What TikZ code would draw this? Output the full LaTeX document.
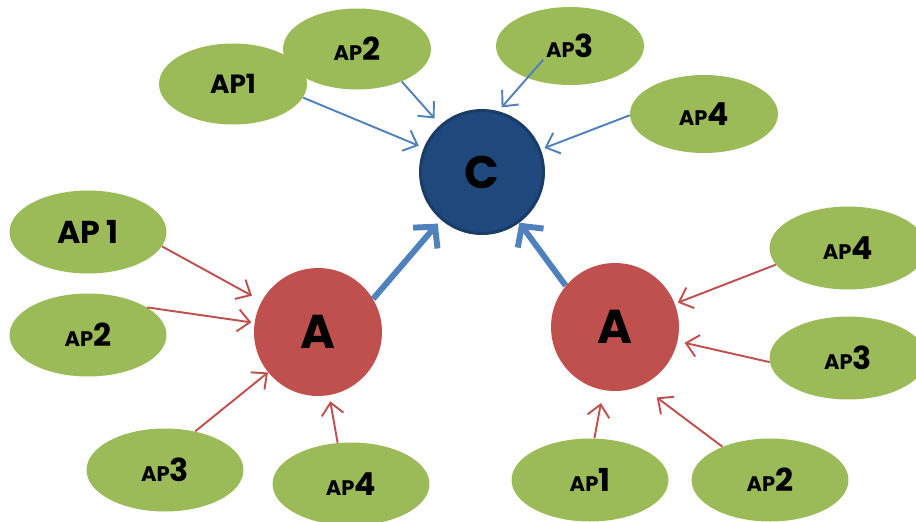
\documentclass[tikz,border=0pt]{standalone}
\usepackage{fontspec}
\setmainfont{Poppins}
\usetikzlibrary{shapes.geometric,arrows.meta,calc}

\definecolor{apgreen}{HTML}{9BBB59}
\definecolor{aggred}{HTML}{C0504D}
\definecolor{coreblue}{HTML}{1F497D}
\definecolor{coreedge}{HTML}{1A3B64}
\definecolor{linkblue}{HTML}{4F81BD}

\newcommand{\aplabel}[1]{{\fontsize{12}{12}\selectfont AP}{\fontsize{18}{18}\selectfont #1}}

\begin{document}
\begin{tikzpicture}[
        x=0.02cm, y=-0.02cm,
        font=\bfseries,
        apnode/.style = {ellipse, fill=apgreen, minimum width=3.14cm, minimum height=1.66cm, inner sep=0pt},
        topap/.style = {apnode, minimum width=2.96cm, minimum height=1.62cm},
        aggnode/.style = {circle, fill=aggred, minimum size=2.56cm, inner sep=0pt, font=\bfseries\fontsize{27}{27}\selectfont},
        corenode/.style = {circle, fill=coreblue, draw=coreedge, line width=1.7pt, minimum size=2.46cm, inner sep=0pt, font=\bfseries\fontsize{26}{26}\selectfont},
        redlink/.style = {draw=aggred, line width=1.1pt, -{Straight Barb[length=2.4mm,width=4.4mm]}, shorten >=#1},
        redlink/.default = 1.2mm,
        bluelink/.style = {draw=linkblue, line width=1.1pt, -{Straight Barb[length=2.4mm,width=4.4mm]}, shorten >=#1},
        bluelink/.default = 1mm,
        uplink/.style = {draw=linkblue, line width=3.4pt, -{Straight Barb[length=3mm,width=6.4mm]}}
    ]

    \useasboundingbox (0,0) rectangle (916,521);

    % top group, feeding the core
    \node[topap] (tap1) at (233,84) {\fontsize{15}{15}\selectfont AP1};
    \node[topap] (tap2) at (357,49) {\aplabel{2}};
    \node[topap, minimum height=1.56cm] (tap3) at (570,46) {\aplabel{3}};
    \node[topap, minimum height=1.56cm] (tap4) at (704,114) {\aplabel{4}};

    \node[corenode] (core) at (482,172) {C};

    % left group
    \node[apnode] (lap1) at (88,232) {\fontsize{18}{18}\selectfont AP 1};
    \node[apnode] (lap2) at (88,335) {\aplabel{2}};
    \node[apnode] (lap3) at (165,470) {\aplabel{3}};
    \node[apnode] (lap4) at (351,484) {\aplabel{4}};

    \node[aggnode] (lagg) at (318,332) {A};

    % right group
    \node[apnode] (rap4) at (848,248) {\aplabel{4}};
    \node[apnode] (rap3) at (848,358) {\aplabel{3}};
    \node[apnode] (rap1) at (590,480) {\aplabel{1}};
    \node[apnode] (rap2) at (770,480) {\aplabel{2}};

    \node[aggnode] (ragg) at (615,327) {A};

    \draw[bluelink=1.1mm] (tap1.-11) -- (core);
    \draw[bluelink=1.7mm] (tap2.-36) -- (core);
    \draw[bluelink=1mm] ($(tap3.center)!0.5!(tap3.207)$) -- (core.75);
    \draw[bluelink=0.8mm] (tap4.181) -- (core);

    \draw[redlink=2.2mm] (lap1.-11) -- (lagg);
    \draw[redlink=0.6mm] (lap2.25) -- (lagg);
    \draw[redlink=0mm] (lap3.52) -- (lagg);
    \draw[redlink=1.2mm] (lap4.108) -- (lagg);

    \draw[redlink=0.6mm] (rap4.193) -- (ragg);
    \draw[redlink=1.4mm] (rap3.183) -- (ragg);
    \draw[redlink=2.6mm] (rap1.84) -- (ragg);
    \draw[redlink=3.9mm] (rap2.145) -- (ragg.-66);

    \draw[uplink, shorten >=1mm] (lagg.31) -- (core);
    \draw[uplink] (ragg.140) -- (core);

\end{tikzpicture}
\end{document}
